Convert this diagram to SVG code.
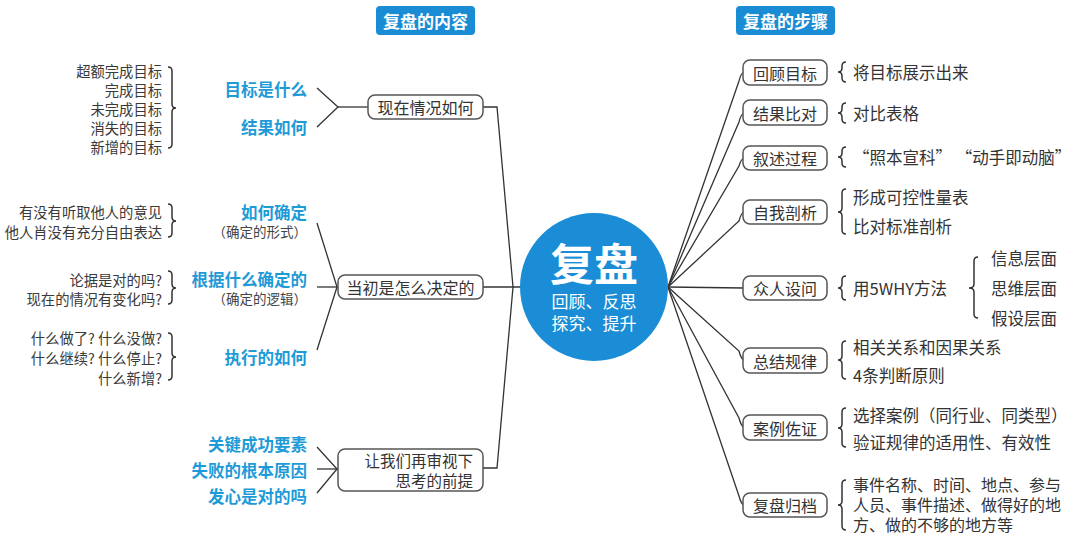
<svg xmlns="http://www.w3.org/2000/svg" width="1080" height="540" viewBox="0 0 1080 540">
<style>
text{font-family:"Noto Sans CJK SC","Noto Sans",sans-serif;dominant-baseline:central}
.box{fill:#fff;stroke:#555;stroke-width:1.5}
.title{fill:#1a8cd4}
.tt{fill:#fff;font-size:17px;font-weight:bold;text-anchor:middle}
.nt{fill:#333;font-size:16px;text-anchor:middle}
.nr{fill:#333;font-size:15.5px;text-anchor:end}
.bl{fill:#1e9bd7;font-size:16.5px;font-weight:bold;text-anchor:end}
.pa{fill:#444;font-size:13.5px;text-anchor:end}
.gl{fill:#3a3a3a;font-size:14.3px;text-anchor:end}
.rt{fill:#333;font-size:16.5px}
.rs{fill:#333;font-size:16px}
.ln{fill:none;stroke:#333;stroke-width:1.3}
.br{fill:none;stroke:#333;stroke-width:1.5}
</style>

<g id="title-left"><rect class="title" x="376" y="6" width="99" height="29" rx="4"/><text class="tt" x="425.5" y="20.5">复盘的内容</text></g>
<g id="title-right"><rect class="title" x="736" y="6" width="99" height="29" rx="4"/><text class="tt" x="785.5" y="20.5">复盘的步骤</text></g>

<g id="connectors">
<polyline class="ln" points="483,107 497,107 513,287 497,468 483,468"/>
<line class="ln" x1="483" y1="287" x2="521" y2="287"/>
<polyline class="ln" points="317,88 338,107 317,127"/>
<line class="ln" x1="338" y1="107" x2="368" y2="107"/>
<polyline class="ln" points="317,223 337,287 317,350"/>
<line class="ln" x1="317" y1="287" x2="338" y2="287"/>
<polyline class="ln" points="317,447 337,469 317,493"/>
<line class="ln" x1="317" y1="469" x2="338" y2="469"/>
<path class="ln" d="M668,287 L739,81 Q741,73 744,72"/>
<path class="ln" d="M668,287 L739,122 Q741,114 744,113"/>
<path class="ln" d="M668,287 L739,166 Q741,159 744,158"/>
<path class="ln" d="M668,287 L739,221 Q741,213 744,212"/>
<line class="ln" x1="668" y1="287" x2="744" y2="288"/>
<path class="ln" d="M668,287 L739,351 Q741,359 744,360"/>
<path class="ln" d="M668,287 L739,418 Q741,426 744,427"/>
<path class="ln" d="M668,287 L739,496 Q741,504 744,505"/>
</g>

<g id="center">
<circle cx="594" cy="287" r="74" fill="#1a8dd6"/>
<text x="594" y="262" fill="#fff" font-size="44" font-weight="bold" text-anchor="middle">复盘</text>
<text x="594" y="300" fill="#fff" font-size="17" text-anchor="middle">回顾、反思</text>
<text x="594" y="322" fill="#fff" font-size="17" text-anchor="middle">探究、提升</text>
</g>

<g id="node-xianzai">
<rect class="box" x="368" y="95" width="115" height="24" rx="7"/>
<text class="nt" x="425.5" y="107">现在情况如何</text>
<text class="bl" x="307" y="89">目标是什么</text>
<text class="bl" x="307" y="127">结果如何</text>
<text class="gl" x="162" y="70">超额完成目标</text>
<text class="gl" x="162" y="89">完成目标</text>
<text class="gl" x="162" y="108">未完成目标</text>
<text class="gl" x="162" y="127">消失的目标</text>
<text class="gl" x="162" y="146">新增的目标</text>
<path class="br" d="M168,67 Q172,67 172,71 L172,104 Q172,108 176,108 Q172,108 172,112 L172,144 Q172,148 168,148"/>
</g>

<g id="node-dangchu">
<rect class="box" x="338" y="275" width="145" height="24" rx="7"/>
<text class="nt" x="410.5" y="287">当初是怎么决定的</text>
<text class="bl" x="307" y="212">如何确定</text>
<text class="pa" x="307" y="231">（确定的形式）</text>
<text class="bl" x="307" y="279">根据什么确定的</text>
<text class="pa" x="307" y="298">（确定的逻辑）</text>
<text class="bl" x="307" y="357">执行的如何</text>
<text class="gl" x="162" y="211">有没有听取他人的意见</text>
<text class="gl" x="162" y="231">他人肖没有充分自由表达</text>
<path class="br" d="M168,204 Q172,204 172,208 L172,217 Q172,221 176,221 Q172,221 172,225 L172,233 Q172,237 168,237"/>
<text class="gl" x="162" y="279">论据是对的吗?</text>
<text class="gl" x="162" y="298">现在的情况有变化吗?</text>
<path class="br" d="M168,271 Q172,271 172,275 L172,284 Q172,288 176,288 Q172,288 172,292 L172,300 Q172,304 168,304"/>
<text class="gl" x="162" y="337">什么做了? 什么没做?</text>
<text class="gl" x="162" y="357">什么继续? 什么停止?</text>
<text class="gl" x="162" y="377">什么新增?</text>
<path class="br" d="M168,333 Q172,333 172,337 L172,353 Q172,357 176,357 Q172,357 172,361 L172,376 Q172,380 168,380"/>
</g>

<g id="node-shenshi">
<rect class="box" x="338" y="449" width="145" height="42" rx="7"/>
<text class="nr" x="473" y="460">让我们再审视下</text>
<text class="nr" x="473" y="480">思考的前提</text>
<text class="bl" x="307" y="444">关键成功要素</text>
<text class="bl" x="307" y="470">失败的根本原因</text>
<text class="bl" x="307" y="496">发心是对的吗</text>
</g>

<g id="node-huigu">
<rect class="box" x="743" y="60" width="84" height="25" rx="7"/>
<text class="nt" x="785" y="72.5">回顾目标</text>
<path class="br" d="M846,62 Q842,62 842,66 L842,68 Q842,72 838,72 Q842,72 842,76 L842,78 Q842,82 846,82"/>
<text class="rt" x="853" y="72">将目标展示出来</text>
</g>

<g id="node-jieguo">
<rect class="box" x="743" y="100" width="84" height="25" rx="7"/>
<text class="nt" x="785" y="112.5">结果比对</text>
<path class="br" d="M846,103 Q842,103 842,107 L842,109 Q842,113 838,113 Q842,113 842,117 L842,119 Q842,123 846,123"/>
<text class="rt" x="853" y="113">对比表格</text>
</g>

<g id="node-xushu">
<rect class="box" x="743" y="146" width="84" height="24" rx="7"/>
<text class="nt" x="785" y="158">叙述过程</text>
<path class="br" d="M846,147 Q842,147 842,151 L842,153 Q842,157 838,157 Q842,157 842,161 L842,163 Q842,167 846,167"/>
<text class="rt" x="853" y="157">“照本宣科” “动手即动脑”</text>
</g>

<g id="node-ziwo">
<rect class="box" x="743" y="200" width="84" height="24" rx="7"/>
<text class="nt" x="785" y="212">自我剖析</text>
<path class="br" d="M846,189 Q842,189 842,193 L842,208 Q842,212 838,212 Q842,212 842,216 L842,230 Q842,234 846,234"/>
<text class="rt" x="853" y="197">形成可控性量表</text>
<text class="rt" x="853" y="226">比对标准剖析</text>
</g>

<g id="node-zhongren">
<rect class="box" x="743" y="276" width="84" height="24" rx="7"/>
<text class="nt" x="785" y="288">众人设问</text>
<path class="br" d="M846,276 Q842,276 842,280 L842,284 Q842,288 838,288 Q842,288 842,292 L842,296 Q842,300 846,300"/>
<text class="rt" x="853" y="288">用5WHY方法</text>
<path class="br" d="M978,257 Q974,257 974,261 L974,284 Q974,288 969,288 Q974,288 974,292 L974,314 Q974,318 978,318"/>
<text class="rt" x="991" y="258">信息层面</text>
<text class="rt" x="991" y="288">思维层面</text>
<text class="rt" x="991" y="318">假设层面</text>
</g>

<g id="node-zongjie">
<rect class="box" x="743" y="348" width="84" height="25" rx="7"/>
<text class="nt" x="785" y="360.5">总结规律</text>
<path class="br" d="M846,341 Q842,341 842,345 L842,356 Q842,360 838,360 Q842,360 842,364 L842,375 Q842,379 846,379"/>
<text class="rt" x="853" y="347">相关关系和因果关系</text>
<text class="rt" x="853" y="375">4条判断原则</text>
</g>

<g id="node-anli">
<rect class="box" x="743" y="415" width="84" height="25" rx="7"/>
<text class="nt" x="785" y="427.5">案例佐证</text>
<path class="br" d="M846,408 Q842,408 842,412 L842,424 Q842,428 838,428 Q842,428 842,432 L842,443 Q842,447 846,447"/>
<text class="rt" x="853" y="415">选择案例（同行业、同类型）</text>
<text class="rt" x="853" y="442">验证规律的适用性、有效性</text>
</g>

<g id="node-guidang">
<rect class="box" x="743" y="493" width="84" height="24" rx="7"/>
<text class="nt" x="785" y="505">复盘归档</text>
<path class="br" d="M846,480 Q842,480 842,484 L842,501 Q842,505 838,505 Q842,505 842,509 L842,526 Q842,530 846,530"/>
<text class="rs" x="853" y="484">事件名称、时间、地点、参与</text>
<text class="rs" x="853" y="504">人员、事件描述、做得好的地</text>
<text class="rs" x="853" y="524">方、做的不够的地方等</text>
</g>
</svg>
